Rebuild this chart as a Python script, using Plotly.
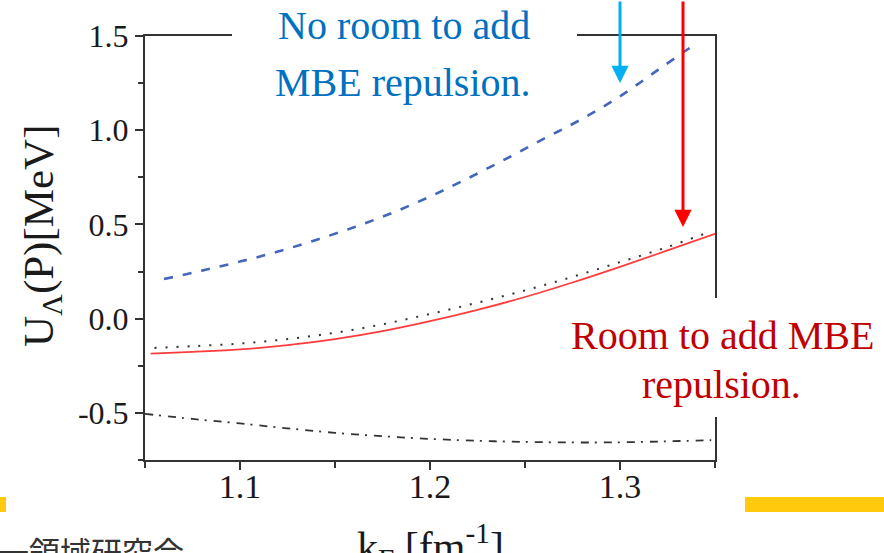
import plotly.graph_objects as go

# ---- data ----
blue_x = [1.060, 1.080, 1.100, 1.120, 1.140, 1.160, 1.180, 1.200, 1.220, 1.240, 1.260, 1.280, 1.300, 1.320, 1.340]
blue_y = [0.21, 0.255, 0.303, 0.356, 0.418, 0.485, 0.561, 0.648, 0.745, 0.848, 0.955, 1.060, 1.180, 1.320, 1.460]

red_x = [1.053, 1.075, 1.10, 1.125, 1.15, 1.175, 1.20, 1.225, 1.25, 1.275, 1.30, 1.325, 1.35]
red_y = [-0.185, -0.176, -0.163, -0.140, -0.108, -0.066, -0.013, 0.047, 0.115, 0.192, 0.275, 0.362, 0.450]

dot_x = [1.055, 1.075, 1.10, 1.125, 1.15, 1.175, 1.20, 1.225, 1.25, 1.275, 1.30, 1.325, 1.347]
dot_y = [-0.155, -0.146, -0.132, -0.108, -0.075, -0.030, 0.025, 0.085, 0.150, 0.222, 0.300, 0.380, 0.460]

dd_x = [1.05, 1.075, 1.10, 1.125, 1.15, 1.175, 1.20, 1.225, 1.25, 1.275, 1.30, 1.325, 1.348]
dd_y = [-0.505, -0.532, -0.556, -0.582, -0.606, -0.624, -0.638, -0.648, -0.654, -0.657, -0.656, -0.651, -0.645]

x_ticks = [1.1, 1.2, 1.3]
x_tick_text = ["1.1", "1.2", "1.3"]
y_ticks = [-0.5, 0.0, 0.5, 1.0, 1.5]
y_tick_text = ["-0.5", "0.0", "0.5", "1.0", "1.5"]

x_title = "k<sub>F</sub> [fm<sup>-1</sup>]"
y_title = "U<sub>Λ</sub>(P)[MeV]"
note_blue = ["No room to add", "MBE repulsion."]
note_red = ["Room to add MBE", "repulsion."]
footer = "一領域研究会"

# ---- layout helpers (pixel -> paper) ----
W, H = 884, 553
L, R, T, B = 145, 715, 36, 460


def px(p):
    return (p - L) / (R - L)


def py(p):
    return (B - p) / (B - T)


SERIF = "Liberation Serif, Times New Roman, serif"

fig = go.Figure()
fig.add_trace(go.Scatter(x=blue_x, y=blue_y, mode="lines", line_shape="spline",
                         line=dict(color="#4466BB", width=2.6, dash="9px,10px"), showlegend=False))
fig.add_trace(go.Scatter(x=dot_x, y=dot_y, mode="lines", line_shape="spline",
                         line=dict(color="#333333", width=2, dash="2px,9px"), showlegend=False))
fig.add_trace(go.Scatter(x=red_x, y=red_y, mode="lines", line_shape="spline",
                         line=dict(color="#FF3B3B", width=1.8), showlegend=False))
fig.add_trace(go.Scatter(x=dd_x, y=dd_y, mode="lines", line_shape="spline",
                         line=dict(color="#333333", width=1.8, dash="8px,6px,2px,7px"), showlegend=False))

axis_common = dict(showgrid=False, zeroline=False, showline=True, linecolor="#333333",
                   linewidth=2, mirror=True, ticks="outside", tickcolor="#333333",
                   tickwidth=1.5, ticklen=8)

fig.update_xaxes(range=[1.05, 1.35], tickvals=x_ticks, ticktext=x_tick_text,
                 tickfont=dict(family=SERIF, size=34, color="#1a1a1a"), ticklabelstandoff=-13,
                 minor=dict(dtick=0.05, tick0=1.05, ticks="outside", ticklen=6, tickcolor="#333333", tickwidth=1.5),
                 **axis_common)
fig.update_yaxes(range=[-0.75, 1.5], tickvals=y_ticks, ticktext=y_tick_text,
                 tickfont=dict(family=SERIF, size=32, color="#1a1a1a"),
                 minor=dict(dtick=0.25, tick0=-0.75, ticks="outside", ticklen=5, tickcolor="#333333", tickwidth=1.5),
                 **axis_common)

shapes = [
    # white boxes behind the callout texts (they hide the frame)
    dict(type="rect", xref="paper", yref="paper", x0=px(232), x1=px(577), y0=py(-5), y1=py(105),
         fillcolor="white", line=dict(width=0), layer="above"),
    dict(type="rect", xref="paper", yref="paper", x0=px(565), x1=px(884), y0=py(298), y1=py(417),
         fillcolor="white", line=dict(width=0), layer="above"),
    # slide decoration bars
    dict(type="rect", xref="paper", yref="paper", x0=px(-2), x1=px(6), y0=py(497), y1=py(512),
         fillcolor="#FFC90E", line=dict(width=0), layer="above"),
    dict(type="rect", xref="paper", yref="paper", x0=px(745), x1=px(890), y0=py(497), y1=py(512),
         fillcolor="#FFC90E", line=dict(width=0), layer="above"),
]

annotations = [
    dict(text=note_blue[0], x=px(404), y=py(26), xref="paper", yref="paper", showarrow=False,
         font=dict(family=SERIF, size=40, color="#0070C0"), xanchor="center", yanchor="middle"),
    dict(text=note_blue[1], x=px(403), y=py(82), xref="paper", yref="paper", showarrow=False,
         font=dict(family=SERIF, size=40, color="#0070C0"), xanchor="center", yanchor="middle"),
    dict(text=note_red[0], x=px(722), y=py(335), xref="paper", yref="paper", showarrow=False,
         font=dict(family=SERIF, size=40, color="#C00000"), xanchor="center", yanchor="middle"),
    dict(text=note_red[1], x=px(721), y=py(384), xref="paper", yref="paper", showarrow=False,
         font=dict(family=SERIF, size=40, color="#C00000"), xanchor="center", yanchor="middle"),
    # arrows
    dict(text="", x=px(620), y=py(83), xref="paper", yref="paper", showarrow=True,
         ax=0, ay=-95, arrowhead=2, arrowsize=1.15, arrowwidth=3, arrowcolor="#00B0F0", standoff=0),
    dict(text="", x=px(683), y=py(227), xref="paper", yref="paper", showarrow=True,
         ax=0, ay=-240, arrowhead=2, arrowsize=1.15, arrowwidth=3, arrowcolor="#FF0000", standoff=0),
    # axis titles
    dict(text=y_title, x=px(42), y=py(236), xref="paper", yref="paper", showarrow=False, textangle=-90,
         font=dict(family=SERIF, size=43, color="#1a1a1a"), xanchor="center", yanchor="middle"),
    dict(text=x_title, x=px(430), y=py(546), xref="paper", yref="paper", showarrow=False,
         font=dict(family=SERIF, size=42, color="#1a1a1a"), xanchor="center", yanchor="middle"),
    # footer text (cut by the page edge)
    dict(text=footer, x=px(-4), y=py(550), xref="paper", yref="paper", showarrow=False,
         font=dict(family="Noto Sans CJK JP", size=31, color="#333333"), xanchor="left", yanchor="middle"),
]

fig.update_layout(width=W, height=H, margin=dict(l=L, r=W - R, t=T, b=H - B, pad=0),
                  paper_bgcolor="white", plot_bgcolor="white",
                  shapes=shapes, annotations=annotations, showlegend=False)

fig.write_html("out.html", config={"displayModeBar": False},
               post_script="document.body.style.margin='0';document.body.style.padding='0';"
                           "document.body.style.overflow='hidden';")
